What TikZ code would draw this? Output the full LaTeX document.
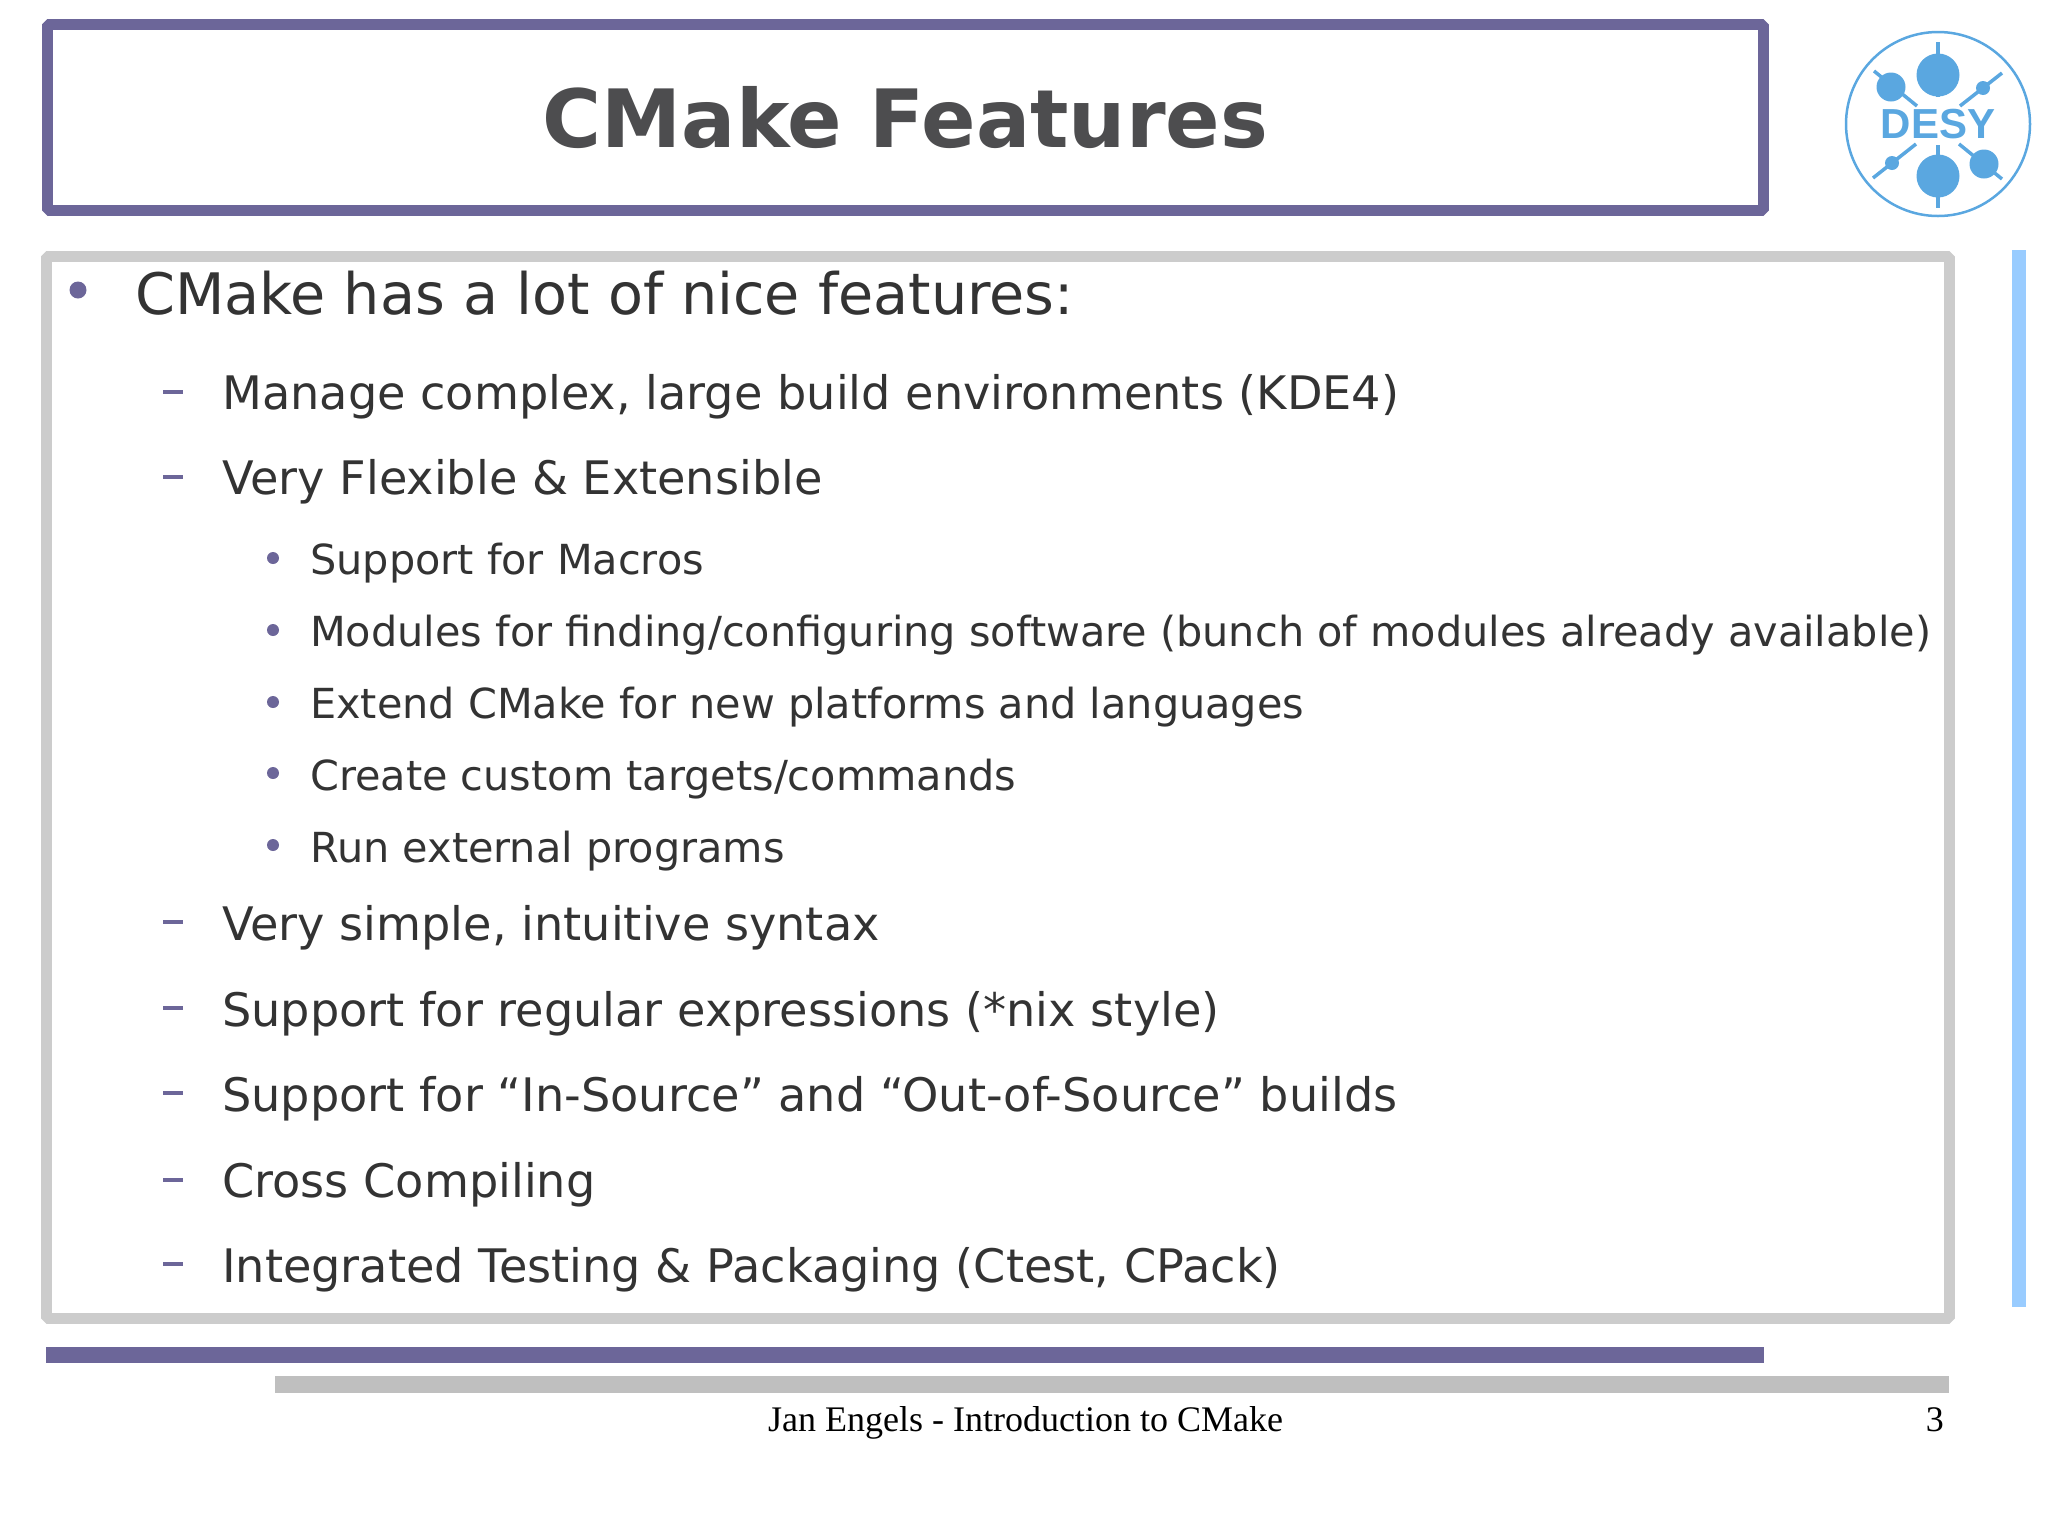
\documentclass[tikz,border=0pt]{standalone}
\usepackage{fontspec}
\setmainfont{DejaVu Sans}
\newfontfamily\footfont{Liberation Serif}
\newfontfamily\logofont{Liberation Sans}
\usetikzlibrary{calc,positioning}
\definecolor{slidepurple}{HTML}{6C6699}
\definecolor{framegrey}{HTML}{CCCCCC}
\definecolor{bargrey}{HTML}{BFBFBF}
\definecolor{sidebarblue}{HTML}{99CCFF}
\definecolor{logoblue}{HTML}{5AA7E0}
\definecolor{bodytext}{HTML}{333333}
\definecolor{titletext}{HTML}{4D4D4F}
\tikzset{
	slideframe/.style = {draw, line width=11pt, line join=bevel, inner sep=0pt},
	lvl one/.style    = {anchor=base west, inner sep=0pt, text=bodytext, font=\fontsize{57.2}{57.2}\selectfont},
	lvl two/.style    = {anchor=base west, inner sep=0pt, text=bodytext, font=\fontsize{46.2}{46.2}\selectfont},
	lvl three/.style  = {anchor=base west, inner sep=0pt, text=bodytext, font=\fontsize{41.4}{41.4}\selectfont},
	dot one/.style    = {circle, fill=slidepurple, minimum size=17pt, inner sep=0pt},
	dot three/.style  = {circle, fill=slidepurple, minimum size=12pt, inner sep=0pt},
	dash two/.style   = {fill=slidepurple, minimum width=20pt, minimum height=3.5pt, inner sep=0pt},
	slidebar/.style   = {anchor=north west, inner sep=0pt},
	logo disc/.style  = {circle, fill=logoblue, inner sep=0pt},
	logo line/.style  = {draw=logoblue, line width=3.5pt},
}
\begin{document}
\begin{tikzpicture}[x=1pt, y=-1pt]
\useasboundingbox (0,0) rectangle (2048,1535);

% title and body frames
\node[slideframe, draw=slidepurple, minimum width=1716pt, minimum height=186pt, text=titletext, font=\fontsize{80.4}{80.4}\selectfont\bfseries] (title) at (905.5,117.5) {CMake Features};
\node[slideframe, draw=framegrey, minimum width=1903pt, minimum height=1062pt] (body) at (998,787.5) {};

% side and footer bars
\node[slidebar, fill=sidebarblue, minimum width=14pt, minimum height=1057pt]  (side bar)   at (2012,250) {};
\node[slidebar, fill=slidepurple, minimum width=1718pt, minimum height=16pt]  (purple bar) at (46,1347) {};
\node[slidebar, fill=bargrey, minimum width=1674pt, minimum height=17pt]      (grey bar)   at (275,1376) {};

% text
\node[dot one]   (dot main) at (78,290) {};
\node[lvl one]   (main) at (135,314) {CMake has a lot of nice features:};

\node[dash two]  (dash manage) at (173,392) {};
\node[lvl two]   (manage) at (222,409) {Manage complex, large build environments (KDE4)};
\node[dash two]  (dash flexible) at (173,477) {};
\node[lvl two]   (flexible) at (222,494) {Very Flexible \& Extensible};

\node[dot three] (dot macros) at (273,558) {};
\node[lvl three] (macros) at (310,574.5) {Support for Macros};
\node[dot three] (dot modules) at (273,630) {};
\node[lvl three] (modules) at (310,646.5) {Modules for finding/configuring software (bunch of modules already available)};
\node[dot three] (dot extend) at (273,702) {};
\node[lvl three] (extend) at (310,718.5) {Extend CMake for new platforms and languages};
\node[dot three] (dot custom) at (273,773) {};
\node[lvl three] (custom) at (310,790.5) {Create custom targets/commands};
\node[dot three] (dot external) at (273,845) {};
\node[lvl three] (external) at (310,862.5) {Run external programs};

\node[dash two]  (dash syntax) at (173,922) {};
\node[lvl two]   (syntax) at (222,940) {Very simple, intuitive syntax};
\node[dash two]  (dash regex) at (173,1008) {};
\node[lvl two]   (regex) at (222,1026) {Support for regular expressions (*nix style)};
\node[dash two]  (dash source) at (173,1093) {};
\node[lvl two]   (source) at (222,1111) {Support for “In-Source” and “Out-of-Source” builds};
\node[dash two]  (dash cross) at (173,1180) {};
\node[lvl two]   (cross) at (222,1197) {Cross Compiling};
\node[dash two]  (dash testing) at (173,1264) {};
\node[lvl two]   (testing) at (222,1282) {Integrated Testing \& Packaging (Ctest, CPack)};

% footer
\node[anchor=base, inner sep=0pt, font=\footfont\fontsize{36}{36}\selectfont, text=black] (footer) at (1025.5,1431) {Jan Engels - Introduction to CMake};
\node[anchor=base east, inner sep=0pt, font=\footfont\fontsize{36}{36}\selectfont, text=black] (page) at (1944,1431) {3};

% logo
\node[circle, draw=logoblue, line width=2.5pt, minimum size=184pt, inner sep=0pt] (logo) at (1938,124) {};
\draw[logo line] (1938,42) -- (1938,97);
\draw[logo line] (1938,145) -- (1938,208);
\draw[logo line] (1874,71) -- (1917,106);
\draw[logo line] (2002,73) -- (1960,106);
\draw[logo line] (1873,178) -- (1916,144);
\draw[logo line] (1959,144) -- (2002,179);
\node[logo disc, minimum size=43pt] (disc top)    at (1938,75) {};
\node[logo disc, minimum size=43pt] (disc bottom) at (1938,176) {};
\node[logo disc, minimum size=29pt] (disc nw)     at (1891,87) {};
\node[logo disc, minimum size=29pt] (disc se)     at (1984,164) {};
\node[logo disc, minimum size=14pt] (disc ne)     at (1983,88) {};
\node[logo disc, minimum size=14pt] (disc sw)     at (1892,163) {};
\node[inner sep=0pt, text=logoblue, font=\logofont\fontsize{42}{42}\selectfont\bfseries] (desy) at (logo) {DESY};
\end{tikzpicture}
\end{document}
